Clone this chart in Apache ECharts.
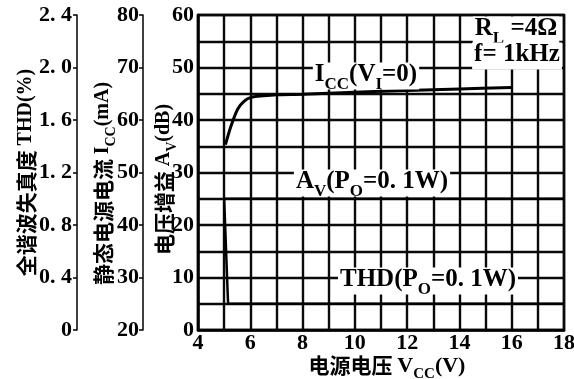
<!DOCTYPE html>
<html>
<head>
<meta charset="utf-8">
<script src="https://cdn.jsdelivr.net/npm/echarts@6/dist/echarts.min.js"></script>
<style>
  html, body { margin: 0; padding: 0; background: #fff; }
  #chart { width: 574px; height: 379px; }
</style>
</head>
<body>
<div id="chart"></div>
<script>
// supply voltage (V) and quiescent current (mA)
const iccVolts = [5.05, 5.26, 5.52, 5.77, 6.03, 6.5, 7, 8, 10, 12, 14, 16];
const iccValues = [55.3, 58.8, 62.1, 63.6, 64.3, 64.6, 64.8, 64.9, 65.3, 65.6, 65.9, 66.2];

// voltage gain (dB)
const avVolts = [5.0, 18];
const avValues = [25, 25];

// total harmonic distortion (%)
const thdVolts = [5.0, 5.15, 18];
const thdValues = [1.0, 0.2, 0.2];

const serif = '"Liberation Serif", "DejaVu Serif", serif';
const cjk = '"Noto Sans CJK SC", sans-serif';
const ink = '#000';

function makeRich(size, cjkSize) {
    return {
        c: { fontFamily: cjk, fontWeight: 'bold', fontSize: cjkSize, color: ink, lineHeight: size + 2, verticalAlign: 'top' },
        n: { fontFamily: serif, fontWeight: 'bold', fontSize: size, color: ink, lineHeight: size + 2, verticalAlign: 'top' },
        s: { fontFamily: serif, fontWeight: 'bold', fontSize: Math.round(size * 0.68), color: ink,
             lineHeight: Math.round(size * 0.7), padding: [Math.round(size * 0.55), 0, 0, 0], verticalAlign: 'top' }
    };
}
const nameRich = makeRich(20, 21);
const noteRich = makeRich(25, 22);

const toPairs = (xs, ys) => xs.map((x, i) => [x, ys[i]]);

const labelFont = { fontFamily: serif, fontWeight: 'bold', fontSize: 22, color: ink };
const gridLine = { show: true, lineStyle: { color: '#0a0a0a', width: 2.4, opacity: 1 } };

const chart = echarts.init(document.getElementById('chart'));

function note(x, y, text) {
    return {
        type: 'text',
        x: x,
        y: y,
        z: 100,
        style: {
            text: text,
            rich: noteRich,
            align: 'center',
            verticalAlign: 'middle',
            backgroundColor: '#fff',
            padding: [0, 2, 0, 2]
        }
    };
}

chart.setOption({
    animation: false,
    grid: {
        left: 198, right: 10, top: 15, bottom: 49,
        outerBoundsMode: 'none',
        containLabel: false,
        show: true, borderColor: ink, borderWidth: 2.5
    },
    xAxis: {
        type: 'value',
        min: 4, max: 18, interval: 1,
        axisLine: { lineStyle: { color: ink, width: 2.5 } },
        axisTick: { show: false },
        splitLine: gridLine,
        axisLabel: Object.assign({}, labelFont, {
            margin: 2,
            formatter: v => (v % 2 === 0 ? String(v) : '')
        }),
        name: '{c|电源电压 }{n|V}{s|CC}{n|(V)}',
        nameLocation: 'middle',
        nameGap: 25,
        nameMoveOverlap: false,
        nameTextStyle: { rich: makeRich(22, 21), padding: [0, 0, 0, 12] }
    },
    yAxis: [
        {
            type: 'value',
            min: 0, max: 60, interval: 5,
            position: 'left',
            axisLine: { show: true, lineStyle: { color: ink, width: 2.5 } },
            axisTick: { show: false },
            splitLine: gridLine,
            axisLabel: Object.assign({}, labelFont, {
                margin: 4,
                formatter: v => (v % 10 === 0 ? String(v) : '')
            }),
            name: '{c|电压增益 }{n|A}{s|V}{n|(dB)}',
            nameLocation: 'middle',
            nameRotate: 90,
            nameGap: 33,
            nameMoveOverlap: false,
            nameTextStyle: { rich: nameRich, align: 'center', verticalAlign: 'middle', padding: [0, 14, 0, 0] }
        },
        {
            type: 'value',
            min: 20, max: 80, interval: 10,
            position: 'left',
            offset: 55,
            axisLine: { show: true, lineStyle: { color: ink, width: 1.5 } },
            axisTick: { show: true, length: 4, lineStyle: { color: ink, width: 1.5 } },
            splitLine: { show: false },
            axisLabel: Object.assign({}, labelFont, { margin: 4 }),
            name: '{c|静态电源电流 }{n|I}{s|CC}{n|(mA)}',
            nameLocation: 'middle',
            nameRotate: 90,
            nameGap: 39,
            nameMoveOverlap: false,
            nameTextStyle: { rich: nameRich, align: 'center', verticalAlign: 'middle', padding: [0, 22, 0, 0] }
        },
        {
            type: 'value',
            min: 0, max: 2.4, interval: 0.4,
            position: 'left',
            offset: 121,
            axisLine: { show: true, lineStyle: { color: ink, width: 1.5 } },
            axisTick: { show: true, length: 4, lineStyle: { color: ink, width: 1.5 } },
            splitLine: { show: false },
            axisLabel: Object.assign({}, labelFont, {
                margin: 5,
                formatter: v => (v === 0 ? '0' : v.toFixed(1).replace('.', '. '))
            }),
            name: '{c|全谐波失真度 }{n|THD(%)}',
            nameLocation: 'middle',
            nameRotate: 90,
            nameGap: 50,
            nameMoveOverlap: false,
            nameTextStyle: { rich: nameRich, align: 'center', verticalAlign: 'middle' }
        }
    ],
    series: [
        {
            type: 'line',
            yAxisIndex: 1,
            data: toPairs(iccVolts, iccValues),
            smooth: 0.3,
            showSymbol: false,
            lineStyle: { color: '#000', width: 3 }
        },
        {
            type: 'line',
            yAxisIndex: 0,
            data: toPairs(avVolts, avValues),
            showSymbol: false,
            lineStyle: { color: '#000', width: 2.5 }
        },
        {
            type: 'line',
            yAxisIndex: 2,
            data: toPairs(thdVolts, thdValues),
            showSymbol: false,
            lineStyle: { color: '#000', width: 2.5 }
        }
    ],
    graphic: [
        note(366, 76, '{n|I}{s|CC}{n|(V}{s|I}{n|=0)}'),
        note(372, 183, '{n|A}{s|V}{n|(P}{s|O}{n|=0. 1W)}'),
        note(428, 281, '{n|THD(P}{s|O}{n|=0. 1W)}'),
        note(516, 30, '{n|R}{s|L}{n| =4Ω}'),
        note(517, 56, '{n|f= 1kHz}')
    ]
});
</script>
</body>
</html>
